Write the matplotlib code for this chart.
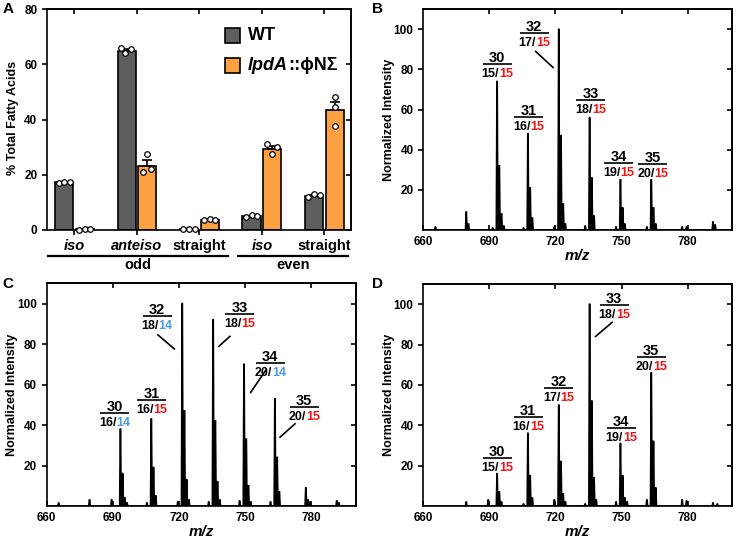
import matplotlib
matplotlib.use('Agg')
import matplotlib.pyplot as plt
import numpy as np
from matplotlib.patches import Rectangle
from matplotlib.transforms import blended_transform_factory

plt.rcParams['font.family'] = ['Liberation Sans', 'DejaVu Sans']
plt.rcParams['font.weight'] = 'bold'
plt.rcParams['axes.linewidth'] = 1.2

# ---------------- Panel A data ----------------
categories = ['iso', 'anteiso', 'straight', 'iso', 'straight']
cat_italic = [True, True, False, True, False]
group_names = ['odd', 'even']
series_names = ['WT', 'lpdA']
wt_means = [17.3, 64.8, 0.5, 5.0, 12.3]
mut_means = [0.2, 23.3, 3.8, 29.4, 43.4]
wt_points = [[17.1, 17.5, 17.2], [65.8, 64.0, 65.5], [0.4, 0.5, 0.5], [4.8, 5.3, 5.0], [12.0, 13.0, 12.5]]
mut_points = [[0.1, 0.2, 0.2], [21.0, 27.5, 22.0], [3.5, 4.0, 3.8], [31.2, 27.5, 30.0], [48.0, 44.5, 37.8]]

# ---------------- Spectra data ----------------
B_mz = [665.5, 679.5, 680.5, 691.5, 693.5, 694.5, 695.5, 696.5, 705.5, 707.5, 708.5, 709.5,
        719.5, 721.5, 722.5, 723.5, 724.5, 733.5, 735.5, 736.5, 737.5, 747.5, 749.5, 750.5,
        751.5, 761.5, 763.5, 764.5, 765.5, 777.5, 779.5, 791.5, 792.5]
B_int = [1.5, 9, 3, 1, 74, 32, 8, 2, 1, 48, 21, 6,
         1.5, 100, 47, 13, 3, 2, 56, 26, 7, 1.5, 25, 11,
         3, 1.5, 25, 11, 3, 1.5, 1.5, 4, 2.5]

C_mz = [665.5, 679.5, 689.5, 693.5, 694.5, 695.5, 696.5, 705.5, 707.5, 708.5, 709.5, 719.5,
        721.5, 722.5, 723.5, 724.5, 733.5, 735.5, 736.5, 737.5, 738.5, 747.5, 749.5, 750.5,
        751.5, 752.5, 761.5, 763.5, 764.5, 765.5, 777.5, 778.5, 779.5, 791.5, 792.5]
C_int = [1.5, 3, 3, 38, 16, 4, 1.5, 1.5, 43, 19, 5, 2,
         100, 47, 13, 3, 2, 92, 42, 12, 3, 2.5, 70, 33,
         10, 2, 2, 53, 24, 7, 9, 3, 2, 2.5, 1.5]

D_mz = [679.5, 689.5, 693.5, 694.5, 695.5, 705.5, 707.5, 708.5, 709.5, 719.5, 721.5, 722.5,
        723.5, 724.5, 733.5, 735.5, 736.5, 737.5, 738.5, 747.5, 749.5, 750.5, 751.5, 752.5,
        761.5, 763.5, 764.5, 765.5, 777.5, 779.5, 791.5, 793.5]
D_int = [2, 3, 16, 7, 2, 1, 36, 15, 4, 3, 50, 22,
         6, 2, 1, 100, 52, 14, 3, 2, 31, 15, 4, 2,
         3, 66, 32, 9, 3, 2.5, 1.5, 1]

species = ['30', '31', '32', '33', '34', '35']
B_chains = [('15', '15'), ('16', '15'), ('17', '15'), ('18', '15'), ('19', '15'), ('20', '15')]
C_chains = [('16', '14'), ('16', '15'), ('18', '14'), ('18', '15'), ('20', '14'), ('20', '15')]
D_chains = [('15', '15'), ('16', '15'), ('17', '15'), ('18', '15'), ('19', '15'), ('20', '15')]

# ---------------- layout / style ----------------
W, H = 738, 542
fig = plt.figure(figsize=(W / 100, H / 100), dpi=100)


def rect(l, t, r, b):
    return [l / W, 1 - b / H, (r - l) / W, (b - t) / H]


GRAY = '#5E5E5E'
ORANGE = '#FBA142'
RED = '#F01414'
BLUE = '#4C9BE8'
chain_colors = {'15': RED, '14': BLUE}

# label anchor (x, y of bar line) and leader lines, per panel
B_anchor = [(693.5, 82.6), (707.8, 56.5), (710.3, 98.0), (735.9, 64.8), (748.8, 33.2), (764.2, 32.9)]
B_lead = {2: (711.0, 89.0, 718.9, 81.0)}
C_anchor = [(691.0, 45.9), (707.7, 52.5), (710.1, 93.7), (747.6, 94.9), (761.3, 70.6), (776.8, 48.7)]
C_lead = {2: (710.5, 84.5, 717.9, 77.6), 3: (743.1, 83.8, 738.1, 78.9),
          4: (759.3, 67.0, 752.5, 56.1), 5: (772.6, 40.6, 765.8, 34.0)}
D_anchor = [(693.5, 23.6), (707.6, 44.3), (721.5, 58.3), (746.7, 99.7), (749.8, 38.5), (763.5, 73.7)]
D_lead = {3: (745.7, 91.0, 738.2, 84.0)}

# ================= Panel A =================
axA = fig.add_axes(rect(47, 9, 350.5, 230))
pos = np.arange(len(categories))
bw = 0.29
off = 0.165
axA.bar(pos - off, wt_means, bw, color=GRAY, edgecolor='black', linewidth=1.2, zorder=2)
axA.bar(pos + off, mut_means, bw, color=ORANGE, edgecolor='black', linewidth=1.2, zorder=2)

jit_wt = [[-0.09, 0, 0.09], [-0.09, -0.03, 0.07], [-0.09, 0, 0.09], [-0.09, 0, 0.09], [-0.09, 0, 0.09]]
jit_mut = [[-0.09, 0, 0.09], [-0.06, 0, 0.06], [-0.09, 0, 0.09], [-0.08, 0, 0.08], [0, 0, 0]]
for i in range(len(categories)):
    for pts, means, sgn, jit in ((wt_points, wt_means, -1, jit_wt), (mut_points, mut_means, 1, jit_mut)):
        p = np.array(pts[i])
        sem = p.std(ddof=1) / np.sqrt(len(p))
        x = pos[i] + sgn * off
        axA.errorbar([x], [means[i]], yerr=[[0], [sem]], fmt='none', ecolor='black',
                     elinewidth=1.2, capsize=3.5, capthick=1.2, zorder=3)
        axA.scatter(x + np.array(jit[i]), p, s=16, facecolor='white', edgecolor='black',
                    linewidth=0.9, zorder=4, clip_on=False)

axA.set_xlim(-0.44, 4.42)
axA.set_ylim(0, 80)
axA.set_yticks([0, 20, 40, 60, 80])
axA.set_xticks(pos)
axA.set_xticklabels(categories, fontsize=10.5, fontweight='bold')
for lab, it in zip(axA.get_xticklabels(), cat_italic):
    if it:
        lab.set_style('italic')
axA.tick_params(axis='both', direction='out', length=3.5, width=1.2, labelsize=8.5)
axA.tick_params(axis='x', pad=3, labelsize=10.5)
for lab in axA.get_yticklabels():
    lab.set_fontweight('bold')
axA.set_ylabel('% Total Fatty Acids', fontsize=9, fontweight='bold')
axA.yaxis.set_label_coords(-0.093, 0.505)
secA_r = axA.secondary_yaxis('right')
secA_r.set_yticks([0, 20, 40, 60, 80])
secA_r.tick_params(direction='in', length=3.5, width=1.2, labelright=False)
secA_t = axA.secondary_xaxis('top')
secA_t.set_xticks(pos)
secA_t.tick_params(direction='in', length=3.5, width=1.2, labeltop=False)

trA = blended_transform_factory(axA.transData, axA.transAxes)
group_spans = [(-0.42, 2.46), (2.62, 4.38)]
for name, (x0, x1) in zip(group_names, group_spans):
    axA.plot([x0, x1], [-0.118, -0.118], color='black', lw=1.6, transform=trA, clip_on=False)
    axA.text((x0 + x1) / 2, -0.128, name, transform=trA, ha='center', va='top',
             fontsize=10.5, fontweight='bold')

# legend (manual)
for k, (col, yc) in enumerate(((GRAY, 35), (ORANGE, 65))):
    fig.patches.append(Rectangle((225 / W, 1 - (yc + 7.5) / H), 15 / W, 15 / H,
                                 facecolor=col, edgecolor='black', linewidth=1.2,
                                 transform=fig.transFigure, figure=fig))
fig.text(248 / W, 1 - 35 / H, 'WT', fontsize=13, fontweight='bold', va='center', ha='left')
t1 = fig.text(248 / W, 1 - 65 / H, 'lpdA', fontsize=13, fontweight='bold', style='italic',
              va='center', ha='left')
axA.annotate('::ϕNΣ', xy=(1, 0.5), xycoords=t1, va='center', ha='left', fontsize=13,
             fontweight='bold', annotation_clip=False,
             family=['Liberation Sans', 'DejaVu Sans'])


# ================= Spectra =================
def spectrum(ax, mz, inten, anchors, chains, leads):
    xs, ys = [660.0], [0.0]
    for m, h in zip(mz, inten):
        xs += [m - 0.35, m - 0.05, m + 0.05, m + 0.35]
        ys += [0.0, h, h, 0.0]
    xs.append(800.0)
    ys.append(0.0)
    ax.plot(xs, ys, color='black', lw=1.2, solid_joinstyle='miter', zorder=2)
    ax.set_xlim(660, 800)
    ax.set_ylim(0, 110)
    ax.set_xticks([660, 690, 720, 750, 780])
    ax.set_yticks([20, 40, 60, 80, 100])
    ax.tick_params(axis='y', direction='out', length=3.5, width=1.2, labelsize=8.5)
    ax.tick_params(axis='x', direction='in', length=3.5, width=1.2, labelsize=8.5, pad=4)
    for lab in ax.get_xticklabels() + ax.get_yticklabels():
        lab.set_fontweight('bold')
    sr = ax.secondary_yaxis('right')
    sr.set_yticks([20, 40, 60, 80, 100])
    sr.tick_params(direction='in', length=3.5, width=1.2, labelright=False)
    st = ax.secondary_xaxis('top')
    st.set_xticks([690, 720, 750, 780])
    st.tick_params(direction='in', length=3.5, width=1.2, labeltop=False)
    ax.set_ylabel('Normalized Intensity', fontsize=9, fontweight='bold')
    ax.yaxis.set_label_coords(-0.092, 0.5)
    ax.set_xlabel('m/z', fontsize=11, fontweight='bold', style='italic')
    ax.xaxis.set_label_coords(0.5, -0.085)
    for sp, (x, y), (a, b) in zip(species, anchors, chains):
        ax.plot([x - 6.6, x + 6.6], [y, y], color='black', lw=1.2, solid_capstyle='butt')
        ax.annotate(sp, xy=(x, y), xytext=(0, 1.4), textcoords='offset points',
                    ha='center', va='baseline', fontsize=10.5, fontweight='bold')
        tb = ax.annotate(a + '/', xy=(x, y), xytext=(1.2, -9.4), textcoords='offset points',
                         ha='right', va='baseline', fontsize=9, fontweight='bold')
        ax.annotate(b, xy=(1, 0), xycoords=tb, ha='left', va='bottom', fontsize=9,
                    fontweight='bold', color=chain_colors[b])
    for k, (x1, y1, x2, y2) in leads.items():
        ax.plot([x1, x2], [y1, y2], color='black', lw=1.2)


axB = fig.add_axes(rect(423.3, 9.3, 731.7, 230))
spectrum(axB, B_mz, B_int, B_anchor, B_chains, B_lead)
axC = fig.add_axes(rect(46.5, 283.3, 355.5, 506))
spectrum(axC, C_mz, C_int, C_anchor, C_chains, C_lead)
axD = fig.add_axes(rect(423.3, 284, 731.7, 506))
spectrum(axD, D_mz, D_int, D_anchor, D_chains, D_lead)

# panel letters
for L, (x, y) in zip('ABCD', [(3, 2), (372, 2), (2, 277), (372, 277)]):
    fig.text(x / W, 1 - y / H, L, fontsize=11, fontweight='bold', ha='left', va='top')

fig.savefig('out.png', dpi=100)
